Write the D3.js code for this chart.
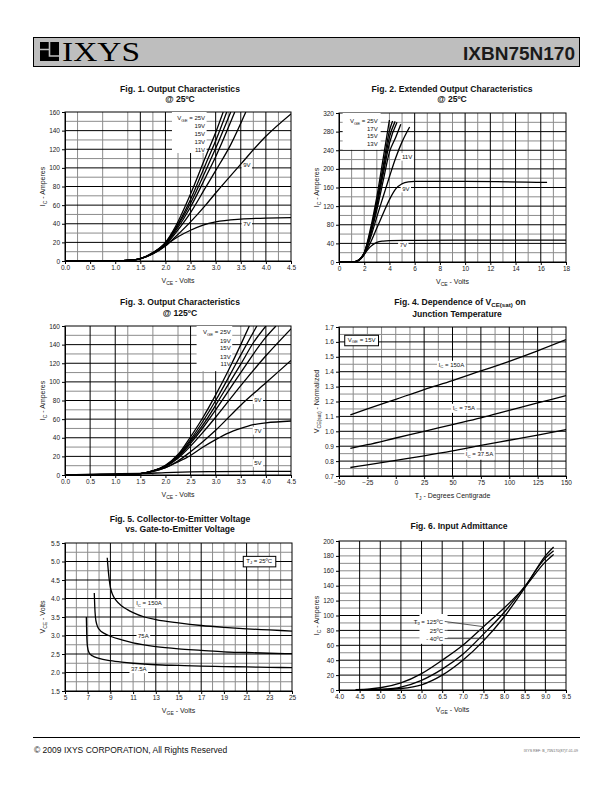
<!DOCTYPE html>
<html><head><meta charset="utf-8">
<script src="https://cdn.jsdelivr.net/npm/d3@7"></script>
<style>
body{margin:0;background:#fff}
svg{display:block}
text{font-family:'Liberation Sans',Arial,sans-serif}
</style></head><body>
<svg id="page" width="612" height="792"></svg>
<script>
// ---------------- DATA ----------------
// Fig 1: Output characteristics @25C  (VCE [V], IC [A])
const fig1XTicks=[0,0.5,1,1.5,2,2.5,3,3.5,4,4.5];
const fig1YTicks=[0,20,40,60,80,100,120,140,160];
const fig1Names=["25V","19V","15V","13V","11V","9V","7V"];
const fig1_25V=[[0,0],[1.0,0.2],[1.3,0.8],[1.5,2.5],[1.75,9],[2.0,20],[2.2,37],[2.5,72],[2.8,112],[3.0,138],[3.15,160]];
const fig1_19V=[[0,0],[1.0,0.2],[1.3,0.8],[1.5,2.5],[1.75,9],[2.0,19.5],[2.2,35],[2.5,66],[2.8,104],[3.0,129],[3.22,160]];
const fig1_15V=[[0,0],[1.0,0.2],[1.3,0.8],[1.5,2.5],[1.75,8.5],[2.0,19],[2.2,34],[2.5,62],[2.8,97],[3.0,121],[3.3,160]];
const fig1_13V=[[0,0],[1.0,0.2],[1.3,0.8],[1.5,2.5],[1.75,8.2],[2.0,18],[2.2,32],[2.5,58],[2.8,90],[3.0,112],[3.38,160]];
const fig1_11V=[[0,0],[1.0,0.2],[1.3,0.8],[1.5,2.4],[1.75,8],[2.0,17],[2.2,30],[2.5,52],[2.8,79],[3.0,97],[3.3,125],[3.6,160]];
const fig1_9V =[[0,0],[1.0,0.2],[1.3,0.8],[1.5,2.3],[1.75,7.5],[2.0,16],[2.2,26],[2.5,42],[2.8,60],[3.0,73],[3.5,104],[4.0,134],[4.5,158]];
const fig1_7V =[[0,0],[1.0,0.2],[1.3,0.8],[1.5,2.5],[1.75,8],[2.0,17],[2.25,26],[2.5,33],[2.75,38.5],[3.0,42],[3.5,45],[4.0,46],[4.5,46.5]];

// Fig 2: Extended output characteristics @25C
const fig2XTicks=[0,2,4,6,8,10,12,14,16,18];
const fig2YTicks=[0,40,80,120,160,200,240,280,320];
const fig2Names=["25V","19V","17V","15V","13V","11V","9V","7V"];
const fig2_25V=[[0,0],[1.0,0],[1.3,1],[1.5,3],[1.75,9],[2.0,20],[2.5,72],[3.0,140],[3.5,222],[4.0,305]];
const fig2_19V=[[0,0],[1.0,0],[1.3,1],[1.5,3],[1.75,9],[2.0,19.5],[2.5,66],[3.0,130],[3.5,206],[4.0,282],[4.25,303]];
const fig2_17V=[[0,0],[1.0,0],[1.3,1],[1.5,3],[1.75,9],[2.0,19],[2.5,64],[3.0,126],[3.5,197],[4.0,268],[4.45,302]];
const fig2_15V=[[0,0],[1.0,0],[1.3,1],[1.5,3],[1.75,8.5],[2.0,19],[2.5,62],[3.0,121],[3.5,188],[4.0,255],[4.6,300]];
const fig2_13V=[[0,0],[1.0,0],[1.3,1],[1.5,3],[1.75,8],[2.0,18],[2.5,58],[3.0,112],[3.5,174],[4.0,236],[4.5,268],[4.9,296]];
const fig2_11V=[[0,0],[1.0,0],[1.3,1],[1.5,3],[1.75,8],[2.0,17],[2.5,52],[3.0,97],[3.5,140],[4.0,183],[4.5,224],[5.0,258],[5.6,290]];
const fig2_9V =[[0,0],[1.0,0],[1.3,1],[1.5,3],[1.75,7.5],[2.0,16],[2.5,42],[3.0,73],[3.5,104],[4.0,134],[4.5,157],[5.0,168],[5.5,172],[6.0,173],[10,173],[16.5,171]];
const fig2_7V =[[0,0],[1.0,0],[1.3,1],[1.5,3],[1.75,8],[2.0,17],[2.5,33],[3.0,42],[3.5,45],[4.0,46],[6.0,46.5],[10,47],[18,47]];

// Fig 3: Output characteristics @125C
const fig3XTicks=fig1XTicks;
const fig3YTicks=fig1YTicks;
const fig3Names=["25V","19V","15V","13V","11V","9V","7V","5V"];
const fig3_25V=[[0,0],[1.0,0.3],[1.5,1.5],[1.75,4.5],[2.0,10.5],[2.25,22],[2.5,41],[2.75,62],[3.0,86],[3.25,112],[3.5,140],[3.67,160]];
const fig3_19V=[[0,0],[1.0,0.3],[1.5,1.5],[1.75,4.5],[2.0,10],[2.25,21],[2.5,38],[2.75,58],[3.0,80],[3.25,104],[3.5,129],[3.82,160]];
const fig3_15V=[[0,0],[1.0,0.3],[1.5,1.5],[1.75,4.4],[2.0,10],[2.25,20],[2.5,36],[2.75,54],[3.0,75],[3.25,97],[3.5,119],[3.75,142],[4.0,160]];
const fig3_13V=[[0,0],[1.0,0.3],[1.5,1.5],[1.75,4.3],[2.0,9.5],[2.25,19],[2.5,34],[2.75,51],[3.0,70],[3.5,110],[4.0,148],[4.2,160]];
const fig3_11V=[[0,0],[1.0,0.3],[1.5,1.5],[1.75,4.2],[2.0,9],[2.25,18],[2.5,31],[2.75,46],[3.0,62],[3.5,96],[4.0,128],[4.5,157]];
const fig3_9V =[[0,0],[1.0,0.3],[1.5,1.4],[1.75,4],[2.0,8],[2.25,15],[2.5,25],[2.75,36],[3.0,48],[3.5,75],[4.0,99],[4.5,123]];
const fig3_7V =[[0,0],[1.0,0.3],[1.5,1.4],[1.75,4],[2.0,8],[2.25,14],[2.5,21],[2.75,30],[3.0,38],[3.25,45],[3.5,50],[3.75,54],[4.0,56],[4.5,58]];
const fig3_5V =[[0,0],[0.7,1.2],[1.5,1.6],[2.0,2.5],[2.5,3.3],[3.0,3.7],[4.5,4]];

// Fig 4: VCE(sat) normalized vs TJ
const fig4XTicks=[-50,-25,0,25,50,75,100,125,150];
const fig4YTicks=[0.7,0.8,0.9,1.0,1.1,1.2,1.3,1.4,1.5,1.6,1.7];
const fig4Names=["150A","75A","37.5A"];
const fig4_150A=[[-40,1.11],[-25,1.15],[0,1.215],[25,1.28],[50,1.34],[75,1.405],[100,1.47],[125,1.54],[150,1.615]];
const fig4_75A =[[-40,0.885],[-25,0.91],[0,0.955],[25,1.0],[50,1.045],[75,1.09],[100,1.14],[125,1.19],[150,1.24]];
const fig4_375A=[[-40,0.757],[-25,0.775],[0,0.805],[25,0.835],[50,0.868],[75,0.905],[100,0.94],[125,0.975],[150,1.012]];

// Fig 5: VCE vs VGE
const fig5XTicks=[5,7,9,11,13,15,17,19,21,23,25];
const fig5YTicks=[1.5,2.0,2.5,3.0,3.5,4.0,4.5,5.0,5.5];
const fig5Names=["150A","75A","37.5A"];
const fig5_150A=[[8.72,5.1],[8.8,4.8],[8.9,4.5],[9.0,4.3],[9.2,4.1],[9.5,3.95],[10,3.8],[10.5,3.7],[11,3.62],[12,3.5],[13,3.43],[15,3.34],[17,3.27],[19,3.22],[21,3.18],[23,3.15],[25,3.12]];
const fig5_75A =[[7.58,4.15],[7.62,3.8],[7.68,3.5],[7.8,3.3],[8.0,3.17],[8.5,3.05],[9,2.98],[10,2.88],[11,2.8],[13,2.7],[15,2.64],[17,2.6],[19,2.56],[21,2.54],[23,2.52],[25,2.51]];
const fig5_375A=[[6.88,3.5],[6.92,3.0],[6.98,2.7],[7.1,2.55],[7.4,2.45],[8,2.38],[9,2.32],[10,2.28],[11,2.25],[13,2.21],[15,2.19],[17,2.17],[19,2.16],[21,2.15],[23,2.14],[25,2.13]];

// Fig 6: Input admittance
const fig6XTicks=[4.0,4.5,5.0,5.5,6.0,6.5,7.0,7.5,8.0,8.5,9.0,9.5];
const fig6YTicks=[0,20,40,60,80,100,120,140,160,180,200];
const fig6Names=["125ºC","25ºC","- 40ºC"];
const fig6_125C=[[4.4,0.5],[4.75,1.5],[5.0,3],[5.5,9.5],[6.0,22],[6.5,40],[7.0,60],[7.5,85],[8.0,110],[8.5,138],[9.0,172],[9.2,182]];
const fig6_25C =[[4.6,0.3],[5.0,1],[5.5,4],[6.0,13],[6.5,28],[7.0,48],[7.5,75],[8.0,104],[8.5,139],[9.0,177],[9.2,187]];
const fig6_m40C=[[4.8,0],[5.0,0.5],[5.5,2],[6.0,7],[6.5,20],[7.0,40],[7.5,66],[8.0,98],[8.5,137],[9.0,180],[9.2,192]];

// ---------------- DRAWING ----------------
const svg=d3.select("#page");
const defs=svg.append("defs");
const FONT="'Liberation Sans',Arial,sans-serif";

function rich(t,parts,size){
  parts.forEach((p,i)=>{
    const sub=p.startsWith("_");
    const prevSub=i>0&&parts[i-1].startsWith("_");
    const s=t.append("tspan").text(sub?p.slice(1):p);
    if(sub){s.attr("font-size",size*0.72).attr("dy",size*0.25);}
    else if(prevSub){s.attr("dy",-size*0.25);}
  });
  return t;
}

function range(a,b,s){const r=[];for(let v=a;v<=b+1e-9;v+=s)r.push(+v.toFixed(4));return r;}

function drawChart(c){
  const b=c.box;
  const x=d3.scaleLinear().domain(c.xDomain).range([b.left,b.left+b.width]);
  const y=d3.scaleLinear().domain(c.yDomain).range([b.top+b.height,b.top]);
  const root=svg.append("g");
  const gGrid=root.append("g"),gBg=root.append("g"),gCurve=root.append("g"),gText=root.append("g");
  defs.append("clipPath").attr("id","clip"+c.id).append("rect")
    .attr("x",b.left).attr("y",b.top).attr("width",b.width).attr("height",b.height);
  const grid=(vals,vert,major)=>{
    gGrid.append("g").selectAll("line").data(vals).join("line")
      .attr("x1",d=>vert?x(d):b.left).attr("x2",d=>vert?x(d):b.left+b.width)
      .attr("y1",d=>vert?b.top:y(d)).attr("y2",d=>vert?b.top+b.height:y(d))
      .attr("stroke",major?"#000":"#8c8c8c").attr("stroke-width",1);
  };
  grid(c.xMinor,true,false);grid(c.yMinor,false,false);
  grid(c.xMajor,true,true);grid(c.yMajor,false,true);
  gGrid.append("rect").attr("x",b.left).attr("y",b.top).attr("width",b.width).attr("height",b.height)
    .attr("fill","none").attr("stroke","#000").attr("stroke-width",1);
  // axes
  const xa=root.append("g").attr("transform",`translate(0,${b.top+b.height})`)
    .call(d3.axisBottom(x).tickValues(c.xTicks).tickSize(3).tickPadding(1.5).tickFormat(c.xFmt));
  const ya=root.append("g").attr("transform",`translate(${b.left},0)`)
    .call(d3.axisLeft(y).tickValues(c.yTicks).tickSize(3).tickPadding(2).tickFormat(c.yFmt));
  [xa,ya].forEach(a=>{a.attr("font-family",FONT).attr("font-size",6.5);
    a.selectAll("text").attr("fill","#222");a.select(".domain").attr("stroke","#000");
    a.selectAll(".tick line").attr("stroke","#000");});
  // axis titles
  rich(root.append("text").attr("x",b.left+b.width/2+c.xTitleDx).attr("y",b.top+b.height+22)
    .attr("text-anchor","middle").attr("font-size",7).attr("fill","#222"),c.xTitle,7);
  rich(root.append("text").attr("transform",`translate(${b.left-c.yTitleOff},${b.top+b.height/2}) rotate(-90)`)
    .attr("text-anchor","middle").attr("font-size",7).attr("fill","#222"),c.yTitle,7);
  // chart titles
  c.title.forEach((ln,i)=>{
    rich(root.append("text").attr("x",c.titleX[i]).attr("y",c.titleY+i*(c.titleGap||9.5)).attr("text-anchor","middle")
      .attr("font-size",8.6).attr("font-weight","bold").attr("fill","#111"),ln,8.6);
  });
  // white boxes
  (c.boxes||[]).forEach(r=>gBg.append("rect").attr("x",x(r[0])).attr("y",y(r[3]))
    .attr("width",x(r[1])-x(r[0])).attr("height",y(r[2])-y(r[3])).attr("fill","#fff"));
  // curves
  const line=d3.line().x(d=>x(d[0])).y(d=>y(d[1])).curve(d3.curveMonotoneX);
  gCurve.attr("clip-path",`url(#clip${c.id})`).selectAll("path").data(c.series).join("path")
    .attr("d",line).attr("fill","none").attr("stroke","#000").attr("stroke-width",1.3);
  // labels
  (c.labels||[]).forEach(l=>{
    const t=gText.append("text").attr("x",x(l.x)).attr("y",y(l.y)).attr("dy","0.35em")
      .attr("text-anchor",l.anchor||"middle").attr("font-size",6).attr("fill","#111");
    rich(t,l.parts,6);
    if(l.bg||l.border){
      const bb=t.node().getBBox();const px=l.border?3:1.5,py=l.border?1.5:0.8;
      gBg.append("rect").attr("x",bb.x-px).attr("y",bb.y-py).attr("width",bb.width+2*px).attr("height",bb.height+2*py)
        .attr("fill","#fff");
      if(l.border){gText.append("rect").attr("x",bb.x-px).attr("y",bb.y-py).attr("width",bb.width+2*px)
        .attr("height",bb.height+2*py).attr("fill","none").attr("stroke","#000").attr("stroke-width",1);}
    }
    if(l.leader){
      const bb=t.node().getBBox();
      gText.append("line").attr("x1",bb.x+bb.width+1).attr("y1",y(l.y)).attr("x2",x(l.leader[0])).attr("y2",y(l.leader[1]))
        .attr("stroke","#333").attr("stroke-width",0.8);
    }
  });
}

const f1=d3.format(".1f"), f0=d3.format("d");
const vge=(n,first)=>first?["V","_GE"," = "+n]:[n];

drawChart({id:1,box:{left:65,top:112,width:226,height:149},xDomain:[0,4.5],yDomain:[0,160],
  xTicks:fig1XTicks,yTicks:fig1YTicks,xFmt:f1,yFmt:f0,
  xMajor:[1.5,2,2.5,3,3.5,4],xMinor:[0.25,0.75,1.25,1.75,2.25,2.75,3.25,3.75,4.25],
  yMajor:range(20,140,20),yMinor:range(10,150,20),
  title:[["Fig. 1. Output Characteristics"],["@ 25ºC"]],titleX:[180,180],titleY:92,
  xTitle:["V","_CE"," - Volts"],xTitleDx:0,yTitle:["I","_C"," - Amperes"],yTitleOff:20,
  boxes:[[2.13,2.82,116,160]],
  series:[fig1_25V,fig1_19V,fig1_15V,fig1_13V,fig1_11V,fig1_9V,fig1_7V],
  labels:[{x:2.79,y:153.6,anchor:"end",parts:vge(fig1Names[0],true)},
    {x:2.79,y:145,anchor:"end",parts:[fig1Names[1]]},
    {x:2.79,y:136.4,anchor:"end",parts:[fig1Names[2]]},
    {x:2.79,y:127.8,anchor:"end",parts:[fig1Names[3]]},
    {x:2.79,y:119.2,anchor:"end",parts:[fig1Names[4]]},
    {x:3.62,y:103,parts:[fig1Names[5]],bg:true},
    {x:3.62,y:39.7,parts:[fig1Names[6]],bg:true}]});

drawChart({id:2,box:{left:339,top:113,width:227,height:149},xDomain:[0,18],yDomain:[0,320],
  xTicks:fig2XTicks,yTicks:fig2YTicks,xFmt:f0,yFmt:f0,
  xMajor:[6,8,10,12,14,16],xMinor:[1,2,3,4,5,7,9,11,13,15,17],
  yMajor:range(40,280,40),yMinor:range(20,300,40),
  title:[["Fig. 2. Extended Output Characteristics"],["@ 25ºC"]],titleX:[452,452],titleY:92,
  xTitle:["V","_CE"," - Volts"],xTitleDx:0,yTitle:["I","_C"," - Amperes"],yTitleOff:20,
  boxes:[[0.29,3.3,241,320]],
  series:[fig2_25V,fig2_19V,fig2_17V,fig2_15V,fig2_13V,fig2_11V,fig2_9V,fig2_7V],
  labels:[{x:3.07,y:303,anchor:"end",parts:vge(fig2Names[0],true)},
    {x:3.07,y:286,anchor:"end",parts:[fig2Names[2]]},
    {x:3.07,y:271,anchor:"end",parts:[fig2Names[3]]},
    {x:3.07,y:254,anchor:"end",parts:[fig2Names[4]]},
    {x:5.4,y:226,parts:[fig2Names[5]],bg:true},
    {x:5.3,y:158,parts:[fig2Names[6]],bg:true},
    {x:5.1,y:36,parts:[fig2Names[7]],bg:true}]});

drawChart({id:3,box:{left:65,top:326,width:226,height:149},xDomain:[0,4.5],yDomain:[0,160],
  xTicks:fig3XTicks,yTicks:fig3YTicks,xFmt:f1,yFmt:f0,
  xMajor:[0.5,1,2.5,3,4],xMinor:[1.25,1.75,2.25,2.75,3.25,3.5,3.75,4.25],
  yMajor:range(20,140,20),yMinor:range(10,150,20),
  title:[["Fig. 3. Output Characteristics"],["@ 125ºC"]],titleX:[180,180],titleY:305,titleGap:10.5,
  xTitle:["V","_CE"," - Volts"],xTitleDx:0,yTitle:["I","_C"," - Amperes"],yTitleOff:20,
  boxes:[[2.62,3.33,111.5,160]],
  series:[fig3_25V,fig3_19V,fig3_15V,fig3_13V,fig3_11V,fig3_9V,fig3_7V,fig3_5V],
  labels:[{x:3.3,y:153.6,anchor:"end",parts:vge(fig3Names[0],true)},
    {x:3.3,y:144.5,anchor:"end",parts:[fig3Names[1]]},
    {x:3.3,y:136,anchor:"end",parts:[fig3Names[2]]},
    {x:3.3,y:127.3,anchor:"end",parts:[fig3Names[3]]},
    {x:3.3,y:118.8,anchor:"end",parts:[fig3Names[4]]},
    {x:3.84,y:80.5,parts:[fig3Names[5]],bg:true},
    {x:3.84,y:47.6,parts:[fig3Names[6]],bg:true},
    {x:3.84,y:12.9,parts:[fig3Names[7]],bg:true}]});

drawChart({id:4,box:{left:339,top:327,width:227,height:149},xDomain:[-50,150],yDomain:[0.7,1.7],
  xTicks:fig4XTicks,yTicks:fig4YTicks,xFmt:f0,yFmt:f1,
  xMajor:[25,50,75,100,125],xMinor:[-37.5,-25,-12.5,0,12.5,37.5,62.5,87.5,112.5,137.5],
  yMajor:range(0.8,1.6,0.1),yMinor:range(0.75,1.65,0.1),
  title:[["Fig. 4. Dependence of V","_CE(sat)"," on"],["Junction Temperature"]],titleX:[460,457],titleY:304.5,titleGap:12,
  xTitle:["T","_J"," - Degrees Centigrade"],xTitleDx:0,yTitle:["V","_CE(sat)"," - Normalized"],yTitleOff:20,
  series:[fig4_150A,fig4_75A,fig4_375A],
  labels:[{x:-42.3,y:1.615,anchor:"start",parts:["V","_GE"," = 15V"],border:true},
    {x:49,y:1.448,parts:["I","_C"," = "+fig4Names[0]],bg:true},
    {x:60,y:1.16,parts:["I","_C"," = "+fig4Names[1]],bg:true},
    {x:73.8,y:0.845,parts:["I","_C"," = "+fig4Names[2]],bg:true}]});

drawChart({id:5,box:{left:65,top:543,width:227,height:148},xDomain:[5,25],yDomain:[1.5,5.5],
  xTicks:fig5XTicks,yTicks:fig5YTicks,xFmt:f0,yFmt:f1,
  xMajor:[9,13,17,21],xMinor:[6,7,8,10,11,12,14,15,16,18,19,20,22,23,24],
  yMajor:range(2.0,5.0,0.5),yMinor:range(1.75,5.25,0.5),
  title:[["Fig. 5. Collector-to-Emitter Voltage"],["vs. Gate-to-Emitter Voltage"]],titleX:[180,180],titleY:522,
  xTitle:["V","_GE"," - Volts"],xTitleDx:0,yTitle:["V","_CE"," - Volts"],yTitleOff:20,
  series:[fig5_150A,fig5_75A,fig5_375A],
  labels:[{x:20.97,y:5.02,anchor:"start",parts:["T","_J"," = 25ºC"],border:true},
    {x:12.4,y:3.88,parts:["I","_C"," = "+fig5Names[0]],bg:true},
    {x:11.9,y:3.0,parts:[fig5Names[1]],bg:true},
    {x:11.5,y:2.09,parts:[fig5Names[2]],bg:true}]});

drawChart({id:6,box:{left:339,top:541,width:227,height:149},xDomain:[4.0,9.5],yDomain:[0,200],
  xTicks:fig6XTicks,yTicks:fig6YTicks,xFmt:f1,yFmt:f0,
  xMajor:range(4.5,9.0,0.5),xMinor:[],
  yMajor:range(20,100,20),yMinor:[10,30,50,70,90,110,120,130,140,150,160,170,180,190],
  title:[["Fig. 6. Input Admittance"]],titleX:[459],titleY:529,
  xTitle:["V","_GE"," - Volts"],xTitleDx:0,yTitle:["I","_C"," - Amperes"],yTitleOff:20,
  boxes:[[5.95,6.63,62,102]],
  series:[fig6_125C,fig6_25C,fig6_m40C],
  labels:[{x:6.52,y:92,anchor:"end",parts:["T","_J"," = "+fig6Names[0]],leader:[7.5,85]},
    {x:6.52,y:80,anchor:"end",parts:[fig6Names[1]],leader:[7.58,79.6]},
    {x:6.52,y:69,anchor:"end",parts:[fig6Names[2]],leader:[7.55,69]}]});

// ---------------- HEADER / FOOTER ----------------
const hdr=svg.append("g");
hdr.append("rect").attr("x",33.5).attr("y",37.5).attr("width",546).attr("height",29)
  .attr("fill","#bebebe").attr("stroke","#000").attr("stroke-width",1);
hdr.append("rect").attr("x",40).attr("y",42).attr("width",19).attr("height",19).attr("fill","#000");
hdr.append("path").attr("d","M40,49.5 H49.5 V42 M49.5,49.5 V56 H59").attr("fill","none").attr("stroke","#bebebe").attr("stroke-width",1.6);
hdr.append("text").attr("x",62).attr("y",61).style("font-family","'Liberation Serif','DejaVu Serif','Times New Roman',serif")
  .attr("font-size",27).attr("textLength",78).attr("lengthAdjust","spacingAndGlyphs").attr("fill","#000").text("IXYS");
hdr.append("text").attr("x",575).attr("y",59.5).attr("text-anchor","end").attr("font-size",19)
  .attr("font-weight","bold").attr("fill","#1a1a1a").text("IXBN75N170");
svg.append("line").attr("x1",33).attr("x2",580).attr("y1",737.5).attr("y2",737.5).attr("stroke","#000").attr("stroke-width",1);
svg.append("text").attr("x",34).attr("y",753).attr("font-size",8.5).attr("fill","#111").text("© 2009 IXYS CORPORATION, All Rights Reserved");
svg.append("text").attr("x",578).attr("y",752).attr("text-anchor","end").attr("font-size",3.6).attr("fill","#666").text("IXYS REF: B_75N170(87)7-01-09");
</script></body></html>
